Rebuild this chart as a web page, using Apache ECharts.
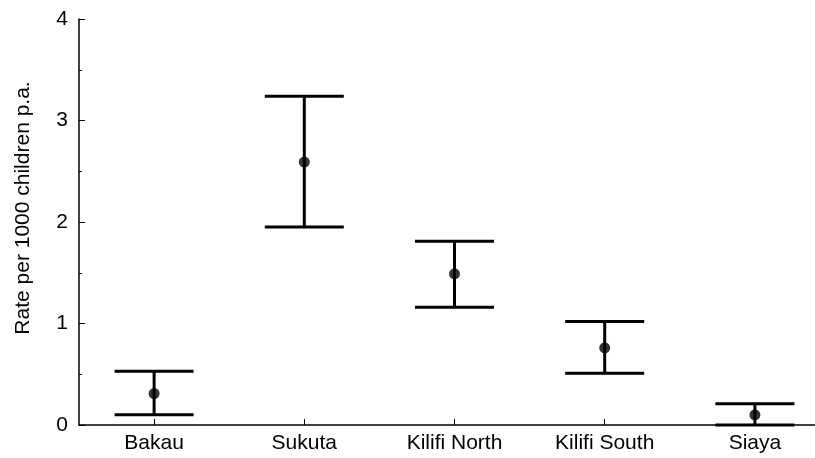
<!DOCTYPE html>
<html>
<head>
<meta charset="utf-8">
<script src="https://cdn.jsdelivr.net/npm/echarts@6/dist/echarts.min.js"></script>
<style>html,body{margin:0;padding:0;background:#fff;overflow:hidden;width:815px;height:458px;}#c{width:830px;height:458px;}</style>
</head>
<body>
<div id="c"></div>
<script>
const categories = ['Bakau', 'Sukuta', 'Kilifi North', 'Kilifi South', 'Siaya'];
const rate = [0.31, 2.59, 1.49, 0.76, 0.10];
const lower = [0.10, 1.95, 1.16, 0.51, 0.00];
const upper = [0.53, 3.24, 1.81, 1.02, 0.21];
const yTicks = [0, 1, 2, 3, 4];
const yTitle = 'Rate per 1000 children p.a.';

const chart = echarts.init(document.getElementById('c'));
const font = 'Liberation Sans, Arial, sans-serif';
chart.setOption({
  animation: false,
  backgroundColor: '#fff',
  grid: { left: 79, right: 0, top: 19, bottom: 33 },
  xAxis: {
    type: 'category',
    data: categories,
    boundaryGap: true,
    axisLine: { lineStyle: { color: '#000', width: 1.5 } },
    axisTick: { show: true, inside: true, length: 6, alignWithLabel: true, lineStyle: { color: '#000', width: 1 } },
    axisLabel: { color: '#000', fontSize: 21, fontFamily: font, margin: 8 },
    splitLine: { show: false }
  },
  yAxis: {
    type: 'value',
    min: yTicks[0],
    max: yTicks[yTicks.length - 1],
    interval: 1,
    axisLine: { show: true, lineStyle: { color: '#000', width: 1.5 } },
    axisTick: { show: true, inside: true, length: 6, lineStyle: { color: '#000', width: 1 } },
    minorTick: { show: true, splitNumber: 2, length: 3, lineStyle: { color: '#000', width: 1 } },
    axisLabel: { color: '#000', fontSize: 21, fontFamily: font, margin: 11 },
    splitLine: { show: false }
  },
  graphic: [{
    type: 'text',
    x: 23, y: 208,
    rotation: Math.PI / 2,
    style: { text: yTitle, fill: '#000', fontSize: 21, fontFamily: font, align: 'center', verticalAlign: 'middle' }
  }],
  series: [
    {
      type: 'custom',
      data: categories.map((c, i) => [i, lower[i], upper[i]]),
      renderItem: function (params, api) {
        const i = api.value(0);
        const lo = api.coord([i, api.value(1)]);
        const hi = api.coord([i, api.value(2)]);
        const half = api.size([1, 0])[0] * 0.263;
        return {
          type: 'group',
          children: [
            { type: 'line', shape: { x1: lo[0], y1: lo[1], x2: hi[0], y2: hi[1] }, style: { stroke: '#000', lineWidth: 3 } },
            { type: 'line', shape: { x1: lo[0] - half, y1: lo[1], x2: lo[0] + half, y2: lo[1] }, style: { stroke: '#000', lineWidth: 3 } },
            { type: 'line', shape: { x1: hi[0] - half, y1: hi[1], x2: hi[0] + half, y2: hi[1] }, style: { stroke: '#000', lineWidth: 3 } }
          ]
        };
      },
      z: 3
    },
    {
      type: 'scatter',
      data: rate,
      symbol: 'circle',
      symbolSize: 11,
      itemStyle: { color: '#000' },
      z: 4
    }
  ]
});
</script>
</body>
</html>
